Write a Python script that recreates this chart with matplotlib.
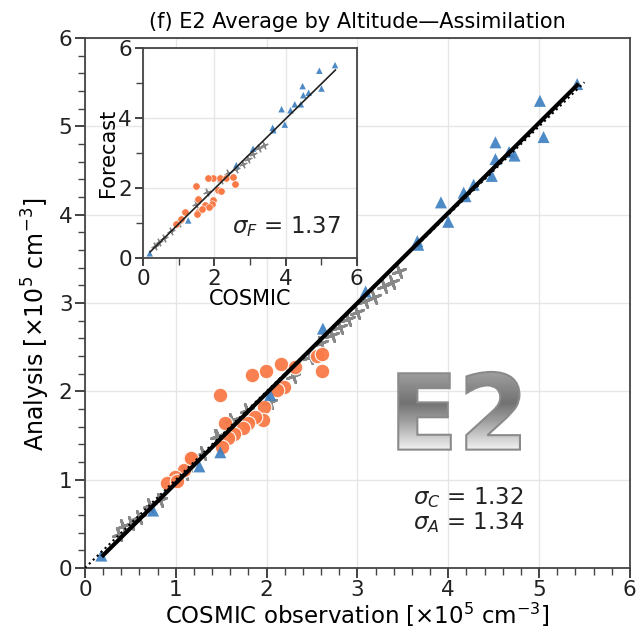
import numpy as np
import matplotlib
matplotlib.use("Agg")
import matplotlib.pyplot as plt
from matplotlib.textpath import TextPath
from matplotlib.patches import PathPatch
from matplotlib.font_manager import FontProperties
import matplotlib.transforms as mtransforms

# main panel: COSMIC observation vs analysis (x1e5 cm^-3)
blue_x = [5.42, 5.01, 5.05, 4.52, 4.52, 4.67, 4.73, 4.48, 4.28, 4.17, 4.19, 3.92, 4.00, 3.66, 3.67, 3.09, 2.62, 2.04, 1.49, 1.26, 0.75, 0.18]
blue_y = [5.48, 5.29, 4.88, 4.82, 4.63, 4.71, 4.67, 4.44, 4.34, 4.25, 4.21, 4.14, 3.92, 3.70, 3.66, 3.13, 2.71, 1.96, 1.31, 1.15, 0.65, 0.14]
orange_x = [1.49, 1.84, 1.99, 2.16, 2.31, 2.55, 2.61, 2.61, 2.19, 2.11, 1.97, 1.96, 1.87, 1.80, 1.74, 1.64, 1.58, 1.54, 1.51, 1.16, 1.09, 0.99, 0.90, 1.01, 1.17]
orange_y = [1.96, 2.19, 2.23, 2.31, 2.28, 2.40, 2.42, 2.23, 2.05, 2.01, 1.82, 1.68, 1.71, 1.64, 1.59, 1.52, 1.47, 1.64, 1.37, 1.25, 1.11, 1.03, 0.96, 0.98, 1.25]
gray_x = [3.46, 3.38, 3.29, 3.18, 3.08, 2.99, 2.90, 2.81, 2.72, 2.48, 2.29, 2.04, 1.78, 1.62, 1.47, 1.45, 0.83, 0.72, 0.51, 0.42, 0.37, 0.60, 1.10, 1.30, 2.60]
gray_y = [3.36, 3.24, 3.19, 3.07, 3.02, 2.90, 2.82, 2.73, 2.64, 2.39, 2.17, 1.88, 1.79, 1.68, 1.49, 1.49, 0.77, 0.71, 0.51, 0.47, 0.39, 0.58, 1.08, 1.30, 2.55]
fit_slope, fit_icpt = 1.02, -0.06
fit_x = [0.2, 5.42]
ref_x = [0.0, 5.5]
sigma_C, sigma_A, sigma_F = 1.32, 1.34, 1.37

# inset: COSMIC vs forecast
in_blue_x = [5.39, 4.95, 5.01, 4.48, 4.50, 4.65, 4.43, 4.26, 4.14, 3.89, 3.98, 3.64, 3.66, 3.09, 2.62, 1.27, 0.19]
in_blue_y = [5.52, 5.36, 4.85, 4.92, 4.66, 4.73, 4.40, 4.40, 4.23, 4.26, 3.82, 3.73, 3.66, 3.13, 2.66, 1.08, 0.14]
in_orange_x = [1.97, 1.83, 2.16, 2.34, 2.53, 2.58, 1.48, 2.11, 2.20, 1.55, 1.97, 1.95, 1.73, 1.55, 1.52, 1.17, 1.08, 0.94, 1.85, 1.65]
in_orange_y = [2.29, 2.29, 2.29, 2.29, 2.32, 2.13, 2.06, 1.94, 1.91, 1.70, 1.65, 1.56, 1.51, 1.32, 1.25, 1.32, 1.13, 0.98, 1.45, 1.40]
in_gray_x = [3.40, 3.25, 3.10, 2.95, 2.80, 2.60, 2.40, 2.20, 1.80, 1.50, 1.00, 0.80, 0.60, 0.45, 0.35]
in_gray_y = [3.25, 3.15, 2.98, 2.85, 2.70, 2.55, 2.45, 2.25, 1.90, 1.55, 1.00, 0.78, 0.58, 0.45, 0.36]
in_fit_slope, in_fit_icpt = 1.0, -0.02

c_blue = "#3b7fc0"
c_orange = "#f97a47"
c_gray = "#888888"
gmark = (4, 2, 20)

plt.rcParams['font.family'] = 'DejaVu Sans'
fig = plt.figure(figsize=(6.44, 6.36), dpi=100)
ax = fig.add_axes([0.132, 0.107, 0.846, 0.833])

ax.scatter(gray_x, gray_y, marker=gmark, s=90, color=c_gray, linewidths=2, zorder=3)
ax.scatter(orange_x, orange_y, marker='o', s=110, color=c_orange, edgecolors='white', linewidths=0.8, zorder=4, alpha=0.95)
ax.scatter(blue_x, blue_y, marker='^', s=75, color=c_blue, edgecolors='none', zorder=4, alpha=0.9)
fx = np.array(fit_x)
ax.plot(fx, fit_slope * fx + fit_icpt, color='black', lw=3, zorder=5)
rx = np.array(ref_x)
ax.plot(rx, rx, color='black', lw=1.5, ls=':', zorder=5)

ax.set_xlim(0, 6)
ax.set_ylim(0, 6)
ax.set_xticks(range(7))
ax.set_yticks(range(7))
ax.set_xticks(np.arange(0, 6.01, 0.2), minor=True)
ax.set_yticks(np.arange(0, 6.01, 0.2), minor=True)
ax.tick_params(which='major', direction='out', length=7, width=1.2, labelsize=15.5, colors='#222222', pad=2)
ax.tick_params(which='minor', direction='out', length=5, width=1.0, colors='#444444')
ax.grid(True, which='major', color='#e6e6e6', lw=1)
ax.set_axisbelow(True)
for sp in ax.spines.values():
    sp.set_color('#444444')
    sp.set_linewidth(1.3)
ax.set_xlabel(r"COSMIC observation [$\times$10$^5$ cm$^{-3}$]", fontsize=16.5, labelpad=0)
ax.set_ylabel(r"Analysis [$\times$10$^5$ cm$^{-3}$]", fontsize=17, labelpad=2)
ax.yaxis.set_label_coords(-0.06, 0.46)
ax.set_title("(f) E2 Average by Altitude\u2014Assimilation", fontsize=15, pad=7)

ax.text(3.61, 0.80, r"$\sigma_C$ = %.2f" % sigma_C, fontsize=16.5, va='center', color='#222222')
ax.text(3.61, 0.51, r"$\sigma_A$ = %.2f" % sigma_A, fontsize=16.5, va='center', color='#222222')

# big gradient "E2" label
tp = TextPath((0, 0), "E2", size=1.0, prop=FontProperties(family='DejaVu Sans', weight='bold'))
bb = tp.get_extents()
sx = (4.79 - 3.45) / bb.width
sy = (2.22 - 1.34) / bb.height
tr = mtransforms.Affine2D().translate(-bb.x0, -bb.y0).scale(sx, sy).translate(3.45, 1.34)
tpath = tr.transform_path(tp)
patch = PathPatch(tpath, facecolor='none', edgecolor='#8a8a8a', lw=1.5, transform=ax.transData, zorder=6)
ax.add_patch(patch)
grad = np.concatenate([np.linspace(0.95, 0.6, 40), np.linspace(0.6, 0.45, 20), np.linspace(0.45, 0.62, 40)])[:, None]
im = ax.imshow(np.repeat(grad, 2, axis=1), cmap='gray', vmin=0, vmax=1, extent=[3.45, 4.79, 1.34, 2.22],
               aspect='auto', origin='lower', zorder=5.5, interpolation='bilinear')
im.set_clip_path(patch)

# inset
axi = fig.add_axes([0.222, 0.594, 0.332, 0.330])
axi.scatter(in_gray_x, in_gray_y, marker=gmark, s=25, color=c_gray, linewidths=1, zorder=3)
axi.scatter(in_orange_x, in_orange_y, marker='o', s=28, color=c_orange, edgecolors='white', linewidths=0.4, zorder=4)
axi.scatter(in_blue_x, in_blue_y, marker='^', s=22, color=c_blue, edgecolors='none', zorder=4, alpha=0.9)
ix = np.array([0.2, 5.4])
axi.plot(ix, in_fit_slope * ix + in_fit_icpt, color='#222222', lw=1.2, zorder=5)
axi.set_xlim(0, 6)
axi.set_ylim(0, 6)
axi.set_xticks([0, 2, 4, 6])
axi.set_yticks([0, 2, 4, 6])
axi.set_xticks([1, 3, 5], minor=True)
axi.set_yticks([1, 3, 5], minor=True)
axi.tick_params(which='major', direction='out', length=6, width=1.2, labelsize=15.5, colors='#222222', pad=2)
axi.tick_params(which='minor', direction='out', length=5, width=1.0, colors='#444444')
axi.grid(True, which='major', color='#e6e6e6', lw=1)
axi.set_axisbelow(True)
for sp in axi.spines.values():
    sp.set_color('#444444')
    sp.set_linewidth(1.3)
axi.set_xlabel("COSMIC", fontsize=15, labelpad=0)
axi.set_ylabel("Forecast", fontsize=15, labelpad=0)
axi.text(5.55, 0.55, r"$\sigma_F$ = %.2f" % sigma_F, fontsize=16.5, ha='right', va='bottom', color='#222222')

fig.savefig("out.png", dpi=100)
